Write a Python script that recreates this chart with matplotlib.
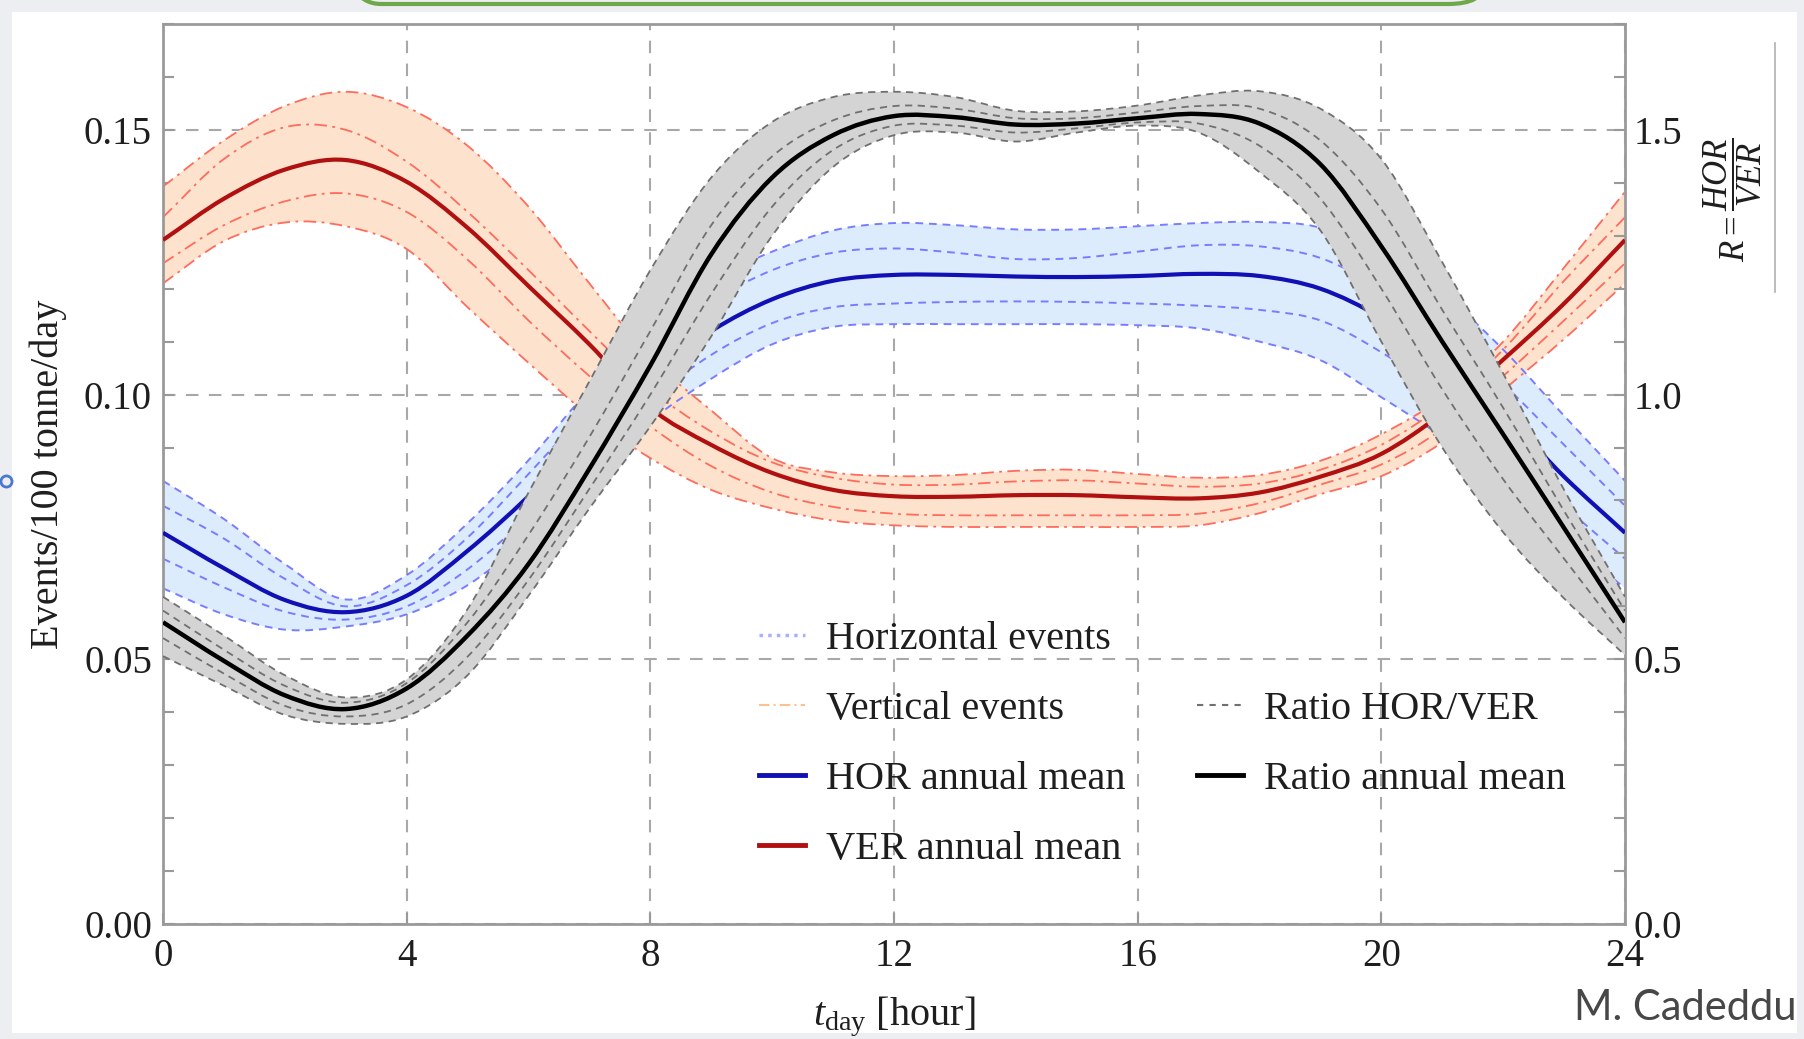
import numpy as np
import matplotlib
matplotlib.use("Agg")
import matplotlib.pyplot as plt
from matplotlib.lines import Line2D
from matplotlib.patches import FancyBboxPatch, Rectangle, PathPatch
from matplotlib.path import Path
from matplotlib.ticker import MultipleLocator

plt.rcParams['font.family'] = ['Liberation Serif', 'DejaVu Serif']
plt.rcParams['mathtext.fontset'] = 'custom'
plt.rcParams['mathtext.rm'] = 'Liberation Serif'
plt.rcParams['mathtext.it'] = 'Liberation Serif:italic'
plt.rcParams['mathtext.bf'] = 'Liberation Serif:bold'

# ---------------- data ----------------
hours = [0, 1, 2, 3, 4, 5, 6, 7, 8, 9, 10, 11, 12,
         13, 14, 15, 16, 17, 18, 19, 20, 21, 22, 23, 24]

# Horizontal events (events / 100 tonne / day)
hor_mean = [0.0739, 0.0672, 0.0612, 0.0589, 0.0620, 0.0705, 0.0808, 0.0925, 0.1035,
            0.1120, 0.1180, 0.1215, 0.1226, 0.1226, 0.1223, 0.1222, 0.1224, 0.1228,
            0.1224, 0.1200, 0.1145, 0.1065, 0.0965, 0.0845, 0.0739]
hor_hi = [0.0837, 0.0765, 0.0680, 0.0613, 0.0659, 0.0757, 0.0876, 0.1010, 0.1125,
          0.1215, 0.1270, 0.1310, 0.1324, 0.1320, 0.1312, 0.1312, 0.1318, 0.1324,
          0.1326, 0.1315, 0.1260, 0.1190, 0.1085, 0.0960, 0.0837]
hor_in_hi = [0.0790, 0.0728, 0.0652, 0.0600, 0.0640, 0.0730, 0.0850, 0.0975, 0.1090,
             0.1175, 0.1235, 0.1268, 0.1276, 0.1268, 0.1256, 0.1258, 0.1270, 0.1282,
             0.1280, 0.1258, 0.1200, 0.1120, 0.1020, 0.0905, 0.0790]
hor_in_lo = [0.0690, 0.0636, 0.0590, 0.0575, 0.0600, 0.0670, 0.0770, 0.0880, 0.0990,
             0.1075, 0.1135, 0.1165, 0.1172, 0.1175, 0.1176, 0.1175, 0.1172, 0.1168,
             0.1160, 0.1140, 0.1080, 0.1000, 0.0900, 0.0790, 0.0690]
hor_lo = [0.0634, 0.0585, 0.0556, 0.0562, 0.0585, 0.0640, 0.0730, 0.0840, 0.0950,
          0.1030, 0.1095, 0.1128, 0.1133, 0.1133, 0.1133, 0.1133, 0.1131, 0.1125,
          0.1100, 0.1065, 0.0995, 0.0920, 0.0830, 0.0730, 0.0634]

# Vertical events
ver_mean = [0.1292, 0.1370, 0.1425, 0.1443, 0.1402, 0.1315, 0.1205, 0.1095, 0.0975,
            0.0905, 0.0852, 0.0820, 0.0808, 0.0807, 0.0810, 0.0810, 0.0806, 0.0804,
            0.0815, 0.0845, 0.0888, 0.0965, 0.1066, 0.1172, 0.1292]
ver_hi = [0.1393, 0.1480, 0.1545, 0.1572, 0.1543, 0.1470, 0.1355, 0.1210, 0.1070,
          0.0970, 0.0880, 0.0853, 0.0846, 0.0848, 0.0856, 0.0858, 0.0850, 0.0843,
          0.0848, 0.0875, 0.0925, 0.0995, 0.1100, 0.1240, 0.1383]
ver_in_hi = [0.1335, 0.1445, 0.1505, 0.1500, 0.1440, 0.1345, 0.1235, 0.1120, 0.1010,
             0.0930, 0.0872, 0.0843, 0.0830, 0.0830, 0.0836, 0.0838, 0.0832, 0.0826,
             0.0832, 0.0858, 0.0905, 0.0980, 0.1085, 0.1215, 0.1335]
ver_in_lo = [0.1248, 0.1320, 0.1365, 0.1380, 0.1345, 0.1255, 0.1140, 0.1035, 0.0940,
             0.0865, 0.0815, 0.0788, 0.0775, 0.0772, 0.0772, 0.0772, 0.0772, 0.0775,
             0.0795, 0.0830, 0.0868, 0.0935, 0.1035, 0.1140, 0.1248]
ver_lo = [0.1210, 0.1290, 0.1325, 0.1318, 0.1275, 0.1165, 0.1060, 0.0960, 0.0880,
          0.0820, 0.0785, 0.0762, 0.0753, 0.0750, 0.0750, 0.0750, 0.0750, 0.0753,
          0.0776, 0.0812, 0.0846, 0.0910, 0.1008, 0.1105, 0.1210]

# Ratio HOR/VER (right axis)
ratio_mean = [0.570, 0.497, 0.432, 0.406, 0.445, 0.545, 0.680, 0.860, 1.055,
              1.265, 1.410, 1.490, 1.526, 1.524, 1.510, 1.512, 1.522, 1.530,
              1.512, 1.435, 1.280, 1.100, 0.925, 0.748, 0.570]
ratio_hi = [0.618, 0.545, 0.470, 0.428, 0.462, 0.595, 0.815, 1.025, 1.235,
            1.410, 1.515, 1.562, 1.572, 1.562, 1.536, 1.535, 1.546, 1.565,
            1.573, 1.540, 1.445, 1.250, 1.040, 0.820, 0.618]
ratio_in_hi = [0.592, 0.518, 0.450, 0.418, 0.455, 0.570, 0.735, 0.920, 1.120,
               1.320, 1.450, 1.518, 1.545, 1.540, 1.522, 1.522, 1.533, 1.545,
               1.540, 1.480, 1.350, 1.160, 0.975, 0.780, 0.592]
ratio_in_lo = [0.540, 0.473, 0.412, 0.392, 0.415, 0.505, 0.650, 0.822, 1.000,
               1.190, 1.355, 1.462, 1.508, 1.508, 1.495, 1.503, 1.514, 1.512,
               1.470, 1.370, 1.200, 1.010, 0.840, 0.690, 0.540]
ratio_lo = [0.506, 0.450, 0.395, 0.378, 0.392, 0.470, 0.620, 0.785, 0.940,
            1.110, 1.300, 1.430, 1.490, 1.495, 1.478, 1.495, 1.508, 1.495,
            1.420, 1.310, 1.100, 0.900, 0.740, 0.615, 0.508]

x_ticks = [0, 4, 8, 12, 16, 20, 24]
y_ticks = [0.00, 0.05, 0.10, 0.15]
r_ticks = [0.0, 0.5, 1.0, 1.5]


# ---------------- smooth drawing through the data points ----------------
def _bezier_tail(xs, ys):
    """Cubic Bezier (Catmull-Rom) segments passing through every data point;
    returns vertices after the first point and their path codes."""
    xs = list(xs)
    ys = list(ys)
    n = len(xs)

    def pt(i):
        if i < 0:
            return 2 * xs[0] - xs[1], 2 * ys[0] - ys[1]
        if i > n - 1:
            return 2 * xs[-1] - xs[-2], 2 * ys[-1] - ys[-2]
        return xs[i], ys[i]

    verts, codes = [], []
    for i in range(n - 1):
        p0, p1, p2, p3 = pt(i - 1), pt(i), pt(i + 1), pt(i + 2)
        c1 = (p1[0] + (p2[0] - p0[0]) / 6, p1[1] + (p2[1] - p0[1]) / 6)
        c2 = (p2[0] - (p3[0] - p1[0]) / 6, p2[1] - (p3[1] - p1[1]) / 6)
        verts += [c1, c2, p2]
        codes += [Path.CURVE4] * 3
    return verts, codes


def smooth_line(ax, xs, ys, **kw):
    v, c = _bezier_tail(xs, ys)
    path = Path([(xs[0], ys[0])] + v, [Path.MOVETO] + c)
    ax.add_patch(PathPatch(path, facecolor='none', **kw))


def smooth_band(ax, xs, lo, hi, **kw):
    vu, cu = _bezier_tail(xs, hi)
    rx, rl = list(xs)[::-1], list(lo)[::-1]
    vl, cl = _bezier_tail(rx, rl)
    verts = [(xs[0], hi[0])] + vu + [(rx[0], rl[0])] + vl + [(xs[0], hi[0])]
    codes = [Path.MOVETO] + cu + [Path.LINETO] + cl + [Path.CLOSEPOLY]
    ax.add_patch(PathPatch(Path(verts, codes), **kw))


# ---------------- figure ----------------
W, H = 1804, 1039
fig = plt.figure(figsize=(W / 100, H / 100), dpi=100)
fig.patch.set_facecolor('#eceef2')

# slide decorations
fig.add_artist(Rectangle((12 / W, 1 - 1033 / H), (1797 - 12) / W, (1033 - 12) / H,
                         transform=fig.transFigure, facecolor='white',
                         edgecolor='none', zorder=0))
fig.add_artist(FancyBboxPatch((345 / W, 1 - 4 / H), (1484 - 345) / W, 0.08,
                              boxstyle='round,pad=0,rounding_size=0.02',
                              transform=fig.transFigure, facecolor='none',
                              edgecolor='#6fa84a', lw=3, zorder=1))
fig.add_artist(Line2D([1775 / W, 1775 / W], [1 - 43 / H, 1 - 292 / H],
                      transform=fig.transFigure, color='#b0b0b0', lw=1.2))
fig.add_artist(Line2D([6 / W], [1 - 481 / H], transform=fig.transFigure,
                      marker='o', ms=8, mfc='none', mec='#4a78d0', mew=2, ls='none'))
fig.text(1574 / W, 1 - 1008 / H, 'M. Cadeddu', family=['Lato', 'DejaVu Sans'],
         fontweight='normal', fontsize=30, color='#474747', va='center', ha='left')

left, right, top, bottom = 163, 1625, 24, 924
ax = fig.add_axes([left / W, 1 - bottom / H, (right - left) / W, (bottom - top) / H])
ax.set_xlim(0, 24)
ax.set_ylim(0, 0.17)

fs = 28
# HOR and VER bands
smooth_band(ax, hours, hor_lo, hor_hi, facecolor='#dcecfd', edgecolor='none', lw=0, zorder=1)
smooth_band(ax, hours, ver_lo, ver_hi, facecolor='#fde3cd', edgecolor='none', lw=0, zorder=1.1)
for arr in (hor_hi, hor_in_hi, hor_in_lo, hor_lo):
    smooth_line(ax, hours, arr, edgecolor='#7a7cff', lw=1.4,
                linestyle=(0, (4, 3)), zorder=2)
for arr in (ver_hi, ver_in_hi, ver_in_lo, ver_lo):
    smooth_line(ax, hours, arr, edgecolor='#ff6b5c', lw=1.3,
                linestyle=(0, (7, 3, 1.5, 3)), zorder=2.1)
smooth_line(ax, hours, hor_mean, edgecolor='#1010b4', lw=3, zorder=3)
smooth_line(ax, hours, ver_mean, edgecolor='#b01010', lw=3, zorder=3)

ax.set_axisbelow(True)
ax.grid(True, color='#a8a8a8', lw=1.5, dashes=(6, 5))
ax.set_xticks(x_ticks)
ax.set_yticks(y_ticks)
ax.set_yticklabels(['0.00', '0.05', '0.10', '0.15'])
ax.yaxis.set_minor_locator(MultipleLocator(0.01))
ax.tick_params(axis='both', which='both', direction='in', colors='#999999',
               labelcolor='#1e1e1e', labelsize=fs)
ax.tick_params(axis='y', which='major', length=8, width=1.5, pad=8)
ax.tick_params(axis='y', which='minor', length=8, width=1.5)
ax.tick_params(axis='x', which='major', length=8, width=1.5, pad=10)
ax.tick_params(axis='y', right=False)
for s in ax.spines.values():
    s.set_color('#9a9a9a')
    s.set_linewidth(2)
ax.set_ylabel('Events/100 tonne/day', fontsize=29, labelpad=12, color='#1e1e1e')
ax.set_xlabel(r'$t_{\mathrm{day}}$ [hour]', fontsize=29, labelpad=14, color='#1e1e1e')

# ratio on right axis
ax2 = ax.twinx()
ax2.set_ylim(0, 1.7)
ax2.set_xlim(0, 24)
smooth_band(ax2, hours, ratio_lo, ratio_hi, facecolor='#d4d4d4', edgecolor='none', lw=0, zorder=1)
for arr in (ratio_hi, ratio_in_hi, ratio_in_lo, ratio_lo):
    smooth_line(ax2, hours, arr, edgecolor='#707070', lw=1.3,
                linestyle=(0, (4, 3)), zorder=2)
smooth_line(ax2, hours, ratio_mean, edgecolor='black', lw=3.2, zorder=3)
ax2.set_yticks(r_ticks)
ax2.set_yticklabels(['0.0', '0.5', '1.0', '1.5'])
ax2.yaxis.set_minor_locator(MultipleLocator(0.1))
ax2.tick_params(axis='y', which='both', direction='in', colors='#999999',
                labelcolor='#1e1e1e', labelsize=fs, length=8, width=1.5, pad=6)
for s in ax2.spines.values():
    s.set_visible(False)
fig.text(1733 / W, 1 - 200 / H, r'$R=\dfrac{HOR}{VER}$', rotation=90, fontsize=25,
         ha='center', va='center', color='#1e1e1e')

# legend
handles = [
    Line2D([], [], color='#aab0ff', lw=2.5, ls=(0, (1, 1.5))),
    Line2D([], [], color='#ffbf90', lw=1.5, dashes=(5, 2, 1, 2)),
    Line2D([], [], color='#1010b4', lw=3.5),
    Line2D([], [], color='#b01010', lw=3.5),
    Line2D([], [], color='none'),
    Line2D([], [], color='#707070', lw=1.5, dashes=(3, 3)),
    Line2D([], [], color='black', lw=3.5),
    Line2D([], [], color='none'),
]
labels = ['Horizontal events', 'Vertical events', 'HOR annual mean', 'VER annual mean',
          ' ', 'Ratio HOR/VER', 'Ratio annual mean', ' ']
leg = ax2.legend(handles, labels, ncol=2, frameon=False, fontsize=29,
                 loc='upper left', bbox_to_anchor=(759 / W, 1 - 621 / H),
                 bbox_transform=fig.transFigure, borderpad=0, borderaxespad=0,
                 handlelength=1.15, handletextpad=0.52, labelspacing=0.81,
                 columnspacing=1.76)
for t in leg.get_texts():
    t.set_color('#1e1e1e')

fig.savefig('out.png', dpi=100, facecolor=fig.get_facecolor())
